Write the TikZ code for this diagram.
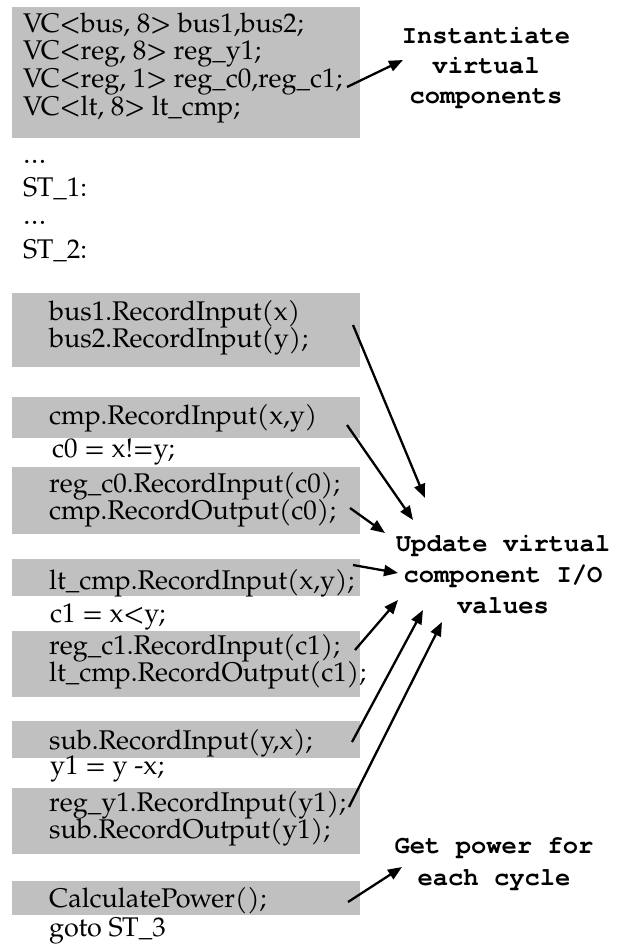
\documentclass[tikz,border=0pt]{standalone}
\usepackage{fontspec}
\setmainfont{TeX Gyre Pagella}
\newfontfamily\lblfont{TeX Gyre Cursor}
\usetikzlibrary{arrows.meta}
\definecolor{boxgray}{RGB}{192,192,192}
\tikzset{
  graybox/.style={fill=boxgray, draw=none, anchor=north west, inner sep=0pt, outer sep=0pt},
  code/.style={anchor=base west, inner sep=0pt, font=\fontsize{27}{28}\selectfont},
  lbl/.style={anchor=base, inner sep=0pt, font=\lblfont\bfseries\fontsize{25.5}{30}\selectfont},
  arr/.style={line width=2.3pt, -{Triangle[length=14pt,width=11pt]}}
}
\begin{document}
\begin{tikzpicture}[x=1pt,y=-1pt]
\useasboundingbox (0,0) rectangle (625,946);
% gray boxes
\node[graybox, minimum width=348pt, minimum height=131pt] (b1) at (12,7) {};
\node[graybox, minimum width=348pt, minimum height=74pt] (b2) at (12,293) {};
\node[graybox, minimum width=348pt, minimum height=41pt] (b3) at (12,397) {};
\node[graybox, minimum width=348pt, minimum height=67pt] (b4) at (12,467) {};
\node[graybox, minimum width=348pt, minimum height=37pt] (b5) at (12,559) {};
\node[graybox, minimum width=348pt, minimum height=66pt] (b6) at (12,631) {};
\node[graybox, minimum width=348pt, minimum height=37pt] (b7) at (12,721) {};
\node[graybox, minimum width=348pt, minimum height=66pt] (b8) at (12,788) {};
\node[graybox, minimum width=348pt, minimum height=34pt] (b9) at (12,881) {};
% code lines
\node[code] (t1) at (23,32) {VC<bus, 8> bus1,bus2;};
\node[code] (t2) at (23,59) {VC<reg, 8> reg\_y1;};
\node[code] (t3) at (23,87) {VC<reg, 1> reg\_c0,reg\_c1;};
\node[code] (t4) at (23,115) {VC<lt, 8> lt\_cmp;};
\node[code] (t5) at (23,163) {…};
\node[code] (t6) at (23,196) {ST\_1:};
\node[code] (t7) at (23,224) {…};
\node[code] (t8) at (23,258) {ST\_2:};
\node[code] (t9) at (49,320) {bus1.RecordInput(x)};
\node[code] (t10) at (49,347) {bus2.RecordInput(y);};
\node[code] (t11) at (49,424) {cmp.RecordInput(x,y)};
\node[code] (t12) at (52,457) {c0 = x!=y;};
\node[code] (t13) at (49,492) {reg\_c0.RecordInput(c0);};
\node[code] (t14) at (49,519) {cmp.RecordOutput(c0);};
\node[code] (t15) at (49,589) {lt\_cmp.RecordInput(x,y);};
\node[code] (t16) at (50,622) {c1 = x<y;};
\node[code] (t17) at (49,654) {reg\_c1.RecordInput(c1);};
\node[code] (t18) at (49,681) {lt\_cmp.RecordOutput(c1);};
\node[code] (t19) at (49,749) {sub.RecordInput(y,x);};
\node[code] (t20) at (50,774) {y1 = y -x;};
\node[code] (t21) at (49,811) {reg\_y1.RecordInput(y1);};
\node[code] (t22) at (49,838) {sub.RecordOutput(y1);};
\node[code] (t23) at (49,907) {CalculatePower();};
\node[code] (t24) at (49,936) {goto ST\_3};
% labels
\node[lbl] (inst1) at (486,43) {Instantiate};
\node[lbl] (inst2) at (486,73) {virtual};
\node[lbl] (inst3) at (486,103) {components};
\node[lbl] (upd1) at (503,551) {Update virtual};
\node[lbl] (upd2) at (503,582) {component I/O};
\node[lbl] (upd3) at (503,613) {values};
\node[lbl] (pow1) at (494,853) {Get power for};
\node[lbl] (pow2) at (494,885) {each cycle};
% arrow end points
\coordinate (s0) at (347,87);  \coordinate (e0) at (403,60);
\coordinate (sa) at (353,325); \coordinate (ea) at (425,498);
\coordinate (sb) at (347,425); \coordinate (eb) at (413,520);
\coordinate (sc) at (350,508); \coordinate (ec) at (385,533);
\coordinate (sd) at (353,565); \coordinate (ed) at (398,573);
\coordinate (se) at (355,650); \coordinate (ee) at (398,600);
\coordinate (sf) at (352,742); \coordinate (ef) at (423,610);
\coordinate (sg) at (349,807); \coordinate (eg) at (442,622);
\coordinate (sh) at (348,902); \coordinate (eh) at (402,867);
\draw[arr] (s0) -- (e0);
\draw[arr] (sa) -- (ea);
\draw[arr] (sb) -- (eb);
\draw[arr] (sc) -- (ec);
\draw[arr] (sd) -- (ed);
\draw[arr] (se) -- (ee);
\draw[arr] (sf) -- (ef);
\draw[arr] (sg) -- (eg);
\draw[arr] (sh) -- (eh);
\end{tikzpicture}
\end{document}
